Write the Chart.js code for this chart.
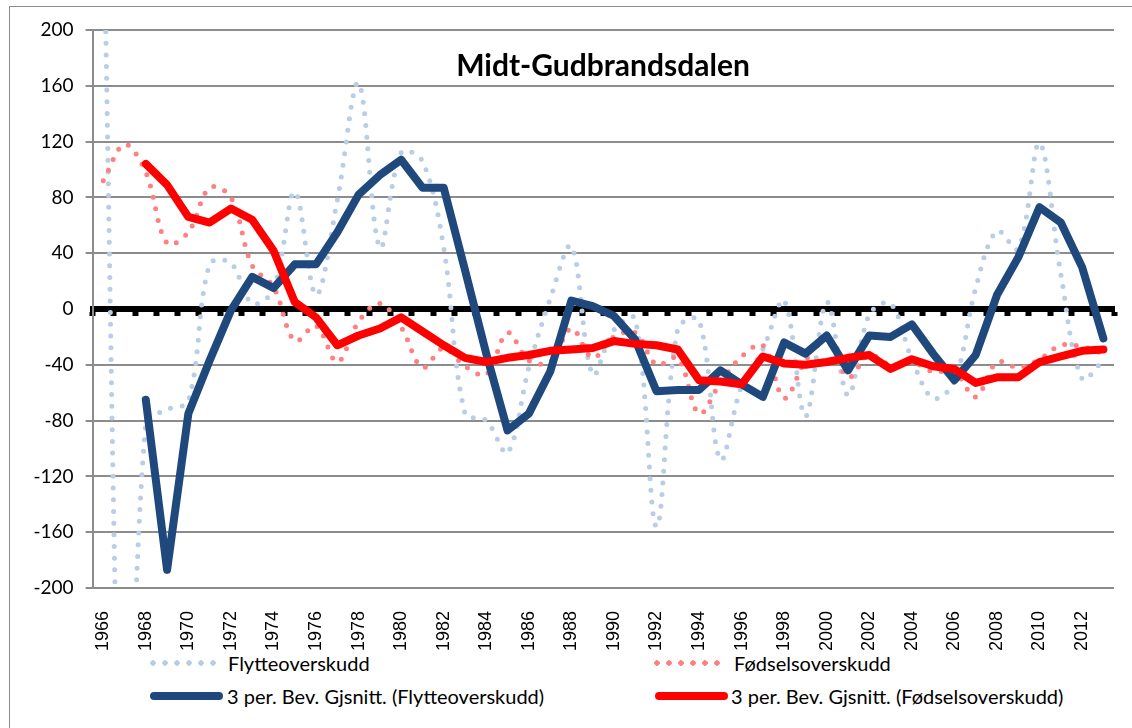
<!DOCTYPE html>
<html>
<head>
<meta charset="utf-8">
<script src="https://cdn.jsdelivr.net/npm/chart.js@4"></script>
<style>
  html, body { margin: 0; padding: 0; overflow: hidden; background: #fff; }
  body { width: 1132px; height: 728px; position: relative; }
  #frame { position: absolute; left: 9px; top: 6px; width: 1200px; height: 800px; border: 1px solid #8c8c8c; }
  #c { position: absolute; left: 0; top: 0; }
  .lg { position: absolute; font-family: Lato, "Open Sans", sans-serif; font-size: 20px; color: #000; white-space: nowrap; line-height: 20px; }
  .dots { position: absolute; height: 6px; }
  .bar { position: absolute; height: 8px; border-radius: 4px; }
</style>
</head>
<body>
<div id="frame"></div>
<canvas id="c" width="1140" height="650"></canvas>

<div class="dots" style="left:147px;top:660px;width:72px;background:radial-gradient(circle, #b9cde5 2.5px, transparent 3px) 0 0/12px 6px repeat-x;"></div>
<div class="lg" style="left:228px;top:653px;">Flytteoverskudd</div>
<div class="dots" style="left:651px;top:660px;width:72px;background:radial-gradient(circle, #ff8080 2.5px, transparent 3px) 0 0/12px 6px repeat-x;"></div>
<div class="lg" style="left:734px;top:653px;">Fødselsoverskudd</div>

<div class="bar" style="left:150px;top:692px;width:73px;background:#1f497d;"></div>
<div class="lg" style="left:227px;top:686px;">3 per. Bev. Gjsnitt. (Flytteoverskudd)</div>
<div class="bar" style="left:655px;top:692px;width:73px;background:#ff0000;"></div>
<div class="lg" style="left:731px;top:686px;">3 per. Bev. Gjsnitt. (Fødselsoverskudd)</div>

<script>
const chartTitle = 'Midt-Gudbrandsdalen';

const years = [];
for (let y = 1966; y <= 2013; y++) years.push(String(y));

// Flytteoverskudd (nettoflytting), per år
const flytte = [291, -404, -82, -72, -66, 32, 33, 4, 14, 84,
  10, 78, 162, 44, 112, 106, 44, -75, -80, -103,
  -42, 7, 45, -47, -15, -7, -156, -14, -8, -108,
  -55, -29, 6, -77, 5, -62, -4, 4, -36, -64,
  -52, 15, 56, 43, 119, 25, -50, -37];

// Fødselsoverskudd, per år
const fodsel = [92, 118, 98, 47, 55, 87, 80, 31, 16, -23,
  -12, -38, -9, 4, -13, -42, -28, -41, -47, -17,
  -37, -38, -14, -35, -20, -17, -40, -35, -75, -53,
  -34, -26, -64, -37, -19, -49, -33, -40, -38, -45,
  -45, -63, -38, -42, -36, -26, -27, -32];

// 3 per. glidende gjennomsnitt, lest av figuren
const flytteSnitt = [null, null, -65, -187, -75, -37, -1, 23, 15, 32,
  32, 55, 82, 96, 107, 87, 87, 28, -32, -87,
  -75, -45, 6, 2, -5, -22, -59, -58, -58, -44,
  -54, -63, -24, -32, -19, -44, -19, -20, -11, -32,
  -51, -33, 10, 37, 73, 62, 30, -21];

const fodselSnitt = [null, null, 104, 89, 66, 62, 72, 64, 42, 5,
  -6, -26, -19, -14, -6, -16, -26, -35, -38, -35,
  -33, -30, -29, -28, -23, -25, -26, -29, -51, -52,
  -54, -34, -39, -40, -38, -35, -33, -43, -36, -41,
  -43, -53, -49, -49, -38, -34, -30, -29];

const yTicks = [-200, -160, -120, -80, -40, 0, 40, 80, 120, 160, 200];

const innerTitle = {
  id: 'innerTitle',
  afterDraw(chart) {
    const ctx = chart.ctx;
    ctx.save();
    ctx.font = 'bold 30px Lato';
    ctx.fillStyle = '#000';
    ctx.textAlign = 'center';
    ctx.textBaseline = 'alphabetic';
    ctx.fillText(chartTitle, 603, 76);
    ctx.restore();
  }
};

new Chart(document.getElementById('c'), {
  type: 'line',
  data: {
    labels: years,
    datasets: [{
      label: 'Flytteoverskudd',
      data: flytte,
      borderColor: '#b9cde5',
      borderWidth: 5,
      borderDash: [0, 11.7],
      borderCapStyle: 'round',
      tension: 0.35,
      pointRadius: 0,
      order: 4
    }, {
      label: 'Fødselsoverskudd',
      data: fodsel,
      borderColor: '#ff8080',
      borderWidth: 5,
      borderDash: [0, 11.7],
      borderCapStyle: 'round',
      tension: 0.35,
      pointRadius: 0,
      order: 3
    }, {
      label: '3 per. Bev. Gjsnitt. (Flytteoverskudd)',
      data: flytteSnitt,
      borderColor: '#1f497d',
      borderWidth: 8,
      borderCapStyle: 'round',
      borderJoinStyle: 'round',
      tension: 0,
      pointRadius: 0,
      order: 2
    }, {
      label: '3 per. Bev. Gjsnitt. (Fødselsoverskudd)',
      data: fodselSnitt,
      borderColor: '#ff0000',
      borderWidth: 8,
      borderCapStyle: 'round',
      borderJoinStyle: 'round',
      tension: 0,
      pointRadius: 0,
      order: 1
    }]
  },
  options: {
    responsive: false,
    animation: false,
    layout: { padding: { top: 30, right: 3, bottom: 0, left: 0 } },
    plugins: {
      legend: { display: false },
      tooltip: { enabled: false }
    },
    scales: {
      x: {
        type: 'category',
        position: 'bottom',
        offset: true,
        grid: { display: false, offset: true },
        border: { display: false },
        ticks: {
          autoSkip: false,
          minRotation: 90,
          maxRotation: 90,
          padding: 15,
          color: '#000',
          font: { family: 'Liberation Sans', size: 18 },
          callback: (v, i) => (i % 2 === 0 ? years[i] : '')
        },
        afterFit: (s) => { s.height = 62; }
      },
      x2: {
        type: 'category',
        axis: 'x',
        position: { y: 0 },
        offset: true,
        grid: { display: true, offset: true, drawOnChartArea: false, drawTicks: true, tickLength: 4, tickWidth: 6, tickColor: '#000' },
        border: { display: true, color: '#000', width: 6 },
        ticks: { display: false, autoSkip: false }
      },
      y: {
        min: -200,
        max: 200,
        afterBuildTicks: (s) => { s.ticks = yTicks.map(v => ({ value: v })); },
        grid: {
          color: (c) => (c.tick && c.tick.value === 0 ? 'rgba(0,0,0,0)' : '#8c8c8c'),
          lineWidth: 2,
          tickLength: 7
        },
        border: { color: '#8c8c8c', width: 2 },
        ticks: {
          padding: 12,
          color: '#000',
          font: { family: 'Lato', size: 19 }
        },
        afterFit: (s) => { s.width = 92.6; }
      }
    }
  },
  plugins: [innerTitle]
});
</script>
</body>
</html>
